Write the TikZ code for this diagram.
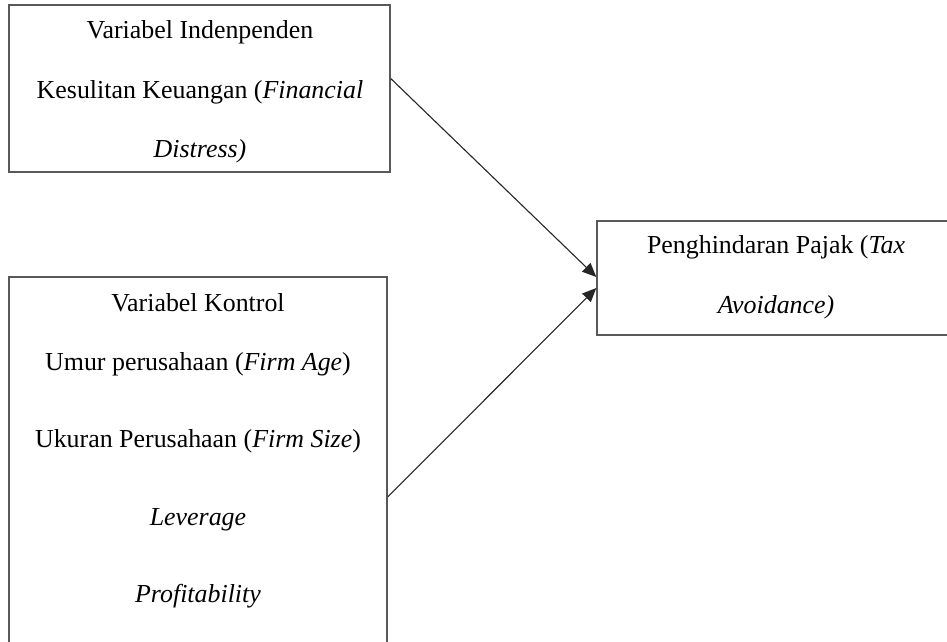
\documentclass[tikz,border=0pt]{standalone}
\usepackage{fontspec}
\setmainfont{Liberation Serif}
\usetikzlibrary{arrows.meta}
\begin{document}
\begin{tikzpicture}[x=1pt,y=-1pt,
  box/.style={draw=black!65,line width=1.4pt,inner sep=0pt},
  txt/.style={anchor=base,inner sep=0pt,font=\fontsize{25.9}{30}\selectfont},
  arr/.style={draw=black!85,line width=1.1pt,-{Triangle[length=14pt,width=12pt]}}]
\clip (0,0) rectangle (947,642);
\fill[white] (0,0) rectangle (947,642);
% boxes
\node[box,minimum width=381pt,minimum height=167pt] (a) at (199.5,88.5) {};
\node[box,minimum width=378pt,minimum height=440pt] (b) at (198,497) {};
\node[box,minimum width=358pt,minimum height=114pt] (c) at (776,278) {};
% box a texts
\node[txt] (a1) at (200,38) {Variabel Indenpenden};
\node[txt] (a2) at (200,98) {Kesulitan Keuangan (\textit{Financial}};
\node[txt] (a3) at (200,157) {\textit{Distress)}};
% box b texts
\node[txt] (b1) at (198,311) {Variabel Kontrol};
\node[txt] (b2) at (198,370) {Umur perusahaan (\textit{Firm Age})};
\node[txt] (b3) at (198,447) {Ukuran Perusahaan (\textit{Firm Size})};
\node[txt] (b4) at (198,525) {\textit{Leverage}};
\node[txt] (b5) at (198,602) {\textit{Profitability}};
% box c texts
\node[txt] (c1) at (776,253) {Penghindaran Pajak (\textit{Tax}};
\node[txt] (c2) at (776,313) {\textit{Avoidance)}};
% arrows
\draw[arr] ([yshift=10pt]a.east) -- ([yshift=1pt]c.west);
\draw[arr] (b.east) -- ([yshift=-10pt]c.west);
\end{tikzpicture}
\end{document}
